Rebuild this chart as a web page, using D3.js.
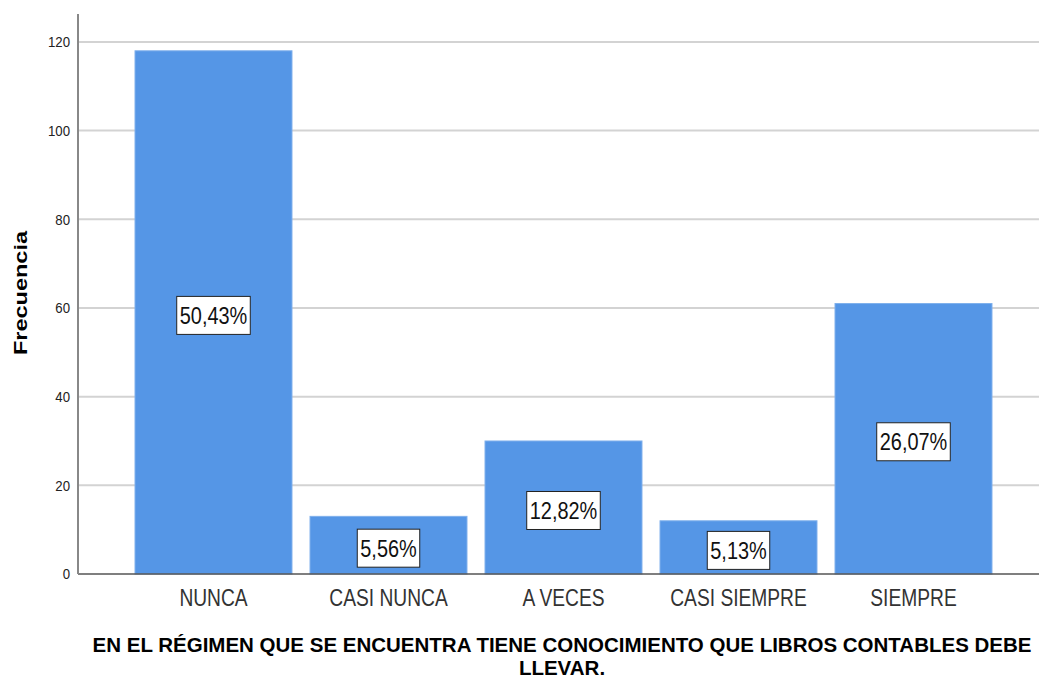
<!DOCTYPE html>
<html lang="es">
<head>
<meta charset="UTF-8">
<script src="https://cdnjs.cloudflare.com/ajax/libs/d3/7.8.5/d3.min.js"></script>
<style>
  body { margin: 0; background: #fff; }
  text { font-family: Arial, "Liberation Sans", sans-serif; }
</style>
</head>
<body>
<div id="chart"></div>
<script>
const categories = ['NUNCA', 'CASI NUNCA', 'A VECES', 'CASI SIEMPRE', 'SIEMPRE'];
const counts = [118, 13, 30, 12, 61];
const percentLabels = ['50,43%', '5,56%', '12,82%', '5,13%', '26,07%'];
const yTicks = [0, 20, 40, 60, 80, 100, 120];
const xTitle = ['EN EL RÉGIMEN QUE SE ENCUENTRA TIENE CONOCIMIENTO QUE LIBROS CONTABLES DEBE', 'LLEVAR.'];

const width = 1039, height = 679;
const axisX = 78, plotRight = 1040, plotTop = 14, baseY = 574;

const svg = d3.select('#chart').append('svg')
    .attr('width', width)
    .attr('height', height);

const y = d3.scaleLinear().domain([0, 126.3]).range([baseY, plotTop]);
const x = d3.scaleBand().domain(categories)
    .range([126, 1001])
    .paddingInner(0.103)
    .paddingOuter(0.0515);

// grid
svg.append('g')
    .selectAll('line')
    .data(yTicks.filter(t => t > 0))
    .enter()
    .append('line')
    .attr('x1', axisX).attr('x2', plotRight)
    .attr('y1', d => y(d)).attr('y2', d => y(d))
    .style('stroke', '#d3d3d3')
    .style('stroke-width', 2);

// bars
const data = categories.map((c, i) => ({ cat: c, n: counts[i], pct: percentLabels[i] }));
svg.append('g')
    .selectAll('rect')
    .data(data)
    .enter()
    .append('rect')
    .attr('x', d => x(d.cat))
    .attr('y', d => y(d.n))
    .attr('width', x.bandwidth())
    .attr('height', d => baseY - y(d.n))
    .style('fill', '#5596e6')
    .style('stroke', '#7fb0ec')
    .style('stroke-width', 1);

// baseline
svg.append('line')
    .attr('x1', axisX).attr('x2', plotRight)
    .attr('y1', baseY).attr('y2', baseY)
    .style('stroke', '#555')
    .style('stroke-width', 1.5);

// y axis (ticks drawn by hand so text can be narrowed like the original)
const yAxis = d3.axisLeft(y).tickValues(yTicks).tickSize(0).tickFormat('');
const gy = svg.append('g')
    .attr('transform', `translate(${axisX},0)`)
    .call(yAxis);
gy.select('.domain').remove();
svg.append('g')
    .selectAll('text')
    .data(yTicks)
    .enter()
    .append('text')
    .attr('transform', d => `translate(70,${y(d)}) scale(0.88,1)`)
    .attr('dy', '0.36em')
    .attr('text-anchor', 'end')
    .style('font-size', '15px')
    .style('fill', '#222')
    .text(d => d);
svg.append('line')
    .attr('x1', axisX).attr('x2', axisX)
    .attr('y1', plotTop).attr('y2', baseY)
    .style('stroke', '#888')
    .style('stroke-width', 2);

// x category labels
svg.append('g')
    .selectAll('text')
    .data(categories)
    .enter()
    .append('text')
    .attr('transform', d => `translate(${x(d) + x.bandwidth() / 2},606) scale(0.8,1)`)
    .attr('text-anchor', 'middle')
    .style('font-size', '24px')
    .style('fill', '#333')
    .text(d => d);

// percent labels
const sx = 0.83;
const lab = svg.append('g')
    .selectAll('g')
    .data(data)
    .enter()
    .append('g')
    .attr('transform', d => `translate(${x(d.cat) + x.bandwidth() / 2},${Math.min((y(d.n) + baseY) / 2 + 3, baseY - 23)})`);
lab.append('text')
    .attr('text-anchor', 'middle')
    .attr('dy', '0.36em')
    .attr('transform', `scale(${sx},1)`)
    .style('font-size', '24px')
    .style('fill', '#111')
    .text(d => d.pct);
lab.each(function () {
    const g = d3.select(this);
    const b = g.select('text').node().getBBox();
    const w = b.width * sx;
    g.insert('rect', 'text')
        .attr('x', -w / 2 - 3)
        .attr('y', -19)
        .attr('width', w + 6)
        .attr('height', 38)
        .style('fill', '#fff')
        .style('stroke', '#222')
        .style('stroke-width', 1);
});

// axis titles
svg.append('text')
    .attr('transform', 'translate(27,293) rotate(-90) scale(1,0.8)')
    .attr('text-anchor', 'middle')
    .style('font-size', '23.5px')
    .style('font-weight', 'bold')
    .text('Frecuencia');

svg.append('text')
    .attr('text-anchor', 'middle')
    .style('font-size', '20.5px')
    .style('font-weight', 'bold')
    .selectAll('tspan')
    .data(xTitle)
    .enter()
    .append('tspan')
    .attr('x', 562)
    .attr('y', (d, i) => 652 + i * 23)
    .text(d => d);
</script>
</body>
</html>
